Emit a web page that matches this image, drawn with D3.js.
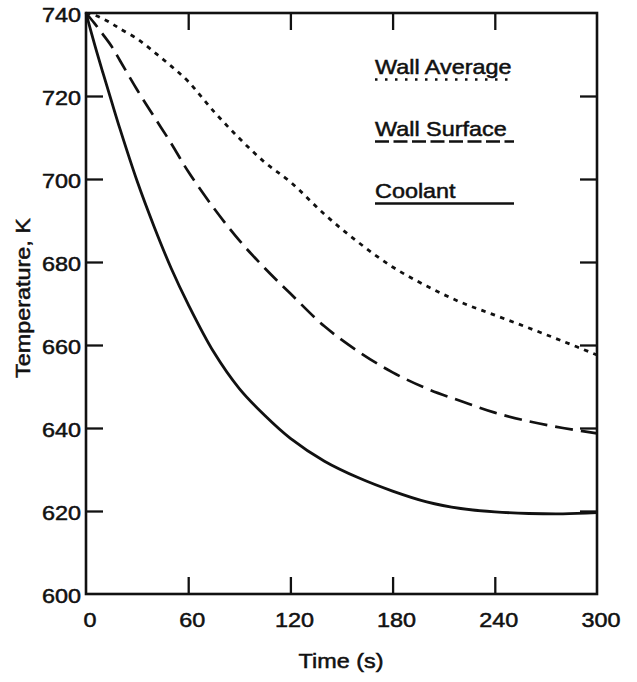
<!DOCTYPE html>
<html>
<head>
<meta charset="utf-8">
<script src="https://cdn.jsdelivr.net/npm/d3@7"></script>
<style>
  html, body { margin: 0; padding: 0; background: #fff; }
  svg { display: block; }
  text { font-family: "Liberation Sans", Arial, Helvetica, sans-serif; fill: #111; }
</style>
</head>
<body>
<svg id="chart" width="637" height="682"></svg>
<script>
// ---- data ----
const times = [0, 5, 10, 15, 20, 30, 40, 50, 60, 75, 90, 105, 120, 140, 160, 180, 200, 220, 240, 260, 280, 300];
const wallAverage = [740, 739.5, 738.6, 737.5, 736.2, 733.8, 730.6, 727.2, 723.5, 716.3, 709.8, 704, 699.3, 691.5, 684.7, 678.8, 674.2, 670.3, 667.2, 664.1, 660.9, 657.6];
const wallSurface = [740, 737.5, 734.8, 732, 728.5, 721.5, 715, 708.6, 701.8, 693, 685.2, 678.5, 672.4, 664.5, 658.4, 653.4, 649.5, 646.5, 643.7, 641.6, 640, 638.7];
const coolant = [740, 732.5, 725.5, 718.7, 712, 699.5, 688.5, 678.5, 669.8, 658.3, 649.5, 643, 637.5, 632, 628, 624.8, 622.2, 620.6, 619.8, 619.4, 619.3, 619.6];
const seriesNames = ["Wall Average", "Wall Surface", "Coolant"];
const xTicks = [0, 60, 120, 180, 240, 300];
const yTicks = [600, 620, 640, 660, 680, 700, 720, 740];
const xTitle = "Time (s)";
const yTitle = "Temperature, K";

// ---- layout ----
const svg = d3.select("#chart");
const pL = 86, pR = 597, pT = 13, pB = 594;
const x = d3.scaleLinear().domain([0, 300]).range([pL, pR]);
const y = d3.scaleLinear().domain([600, 740]).range([pB, pT]);
const stretch = 1.17;
const tickLen = 17;

function label(txt, px, py, anchor, rot) {
  svg.append("text")
    .attr("transform", `translate(${px},${py}) rotate(${rot || 0}) scale(${stretch},1)`)
    .attr("text-anchor", anchor)
    .attr("font-size", 20)
    .attr("stroke", "#111").attr("stroke-width", 0.5)
    .text(txt);
}

// inner ticks (all four sides), drawn through d3 axes
const innerX = xTicks.slice(1, -1), innerY = yTicks.slice(1, -1);
const axStyle = g => {
  g.select(".domain").remove();
  g.selectAll(".tick line").attr("stroke", "#111").attr("stroke-width", 2.3);
};
svg.append("g").attr("transform", `translate(0,${pB})`)
  .call(d3.axisBottom(x).tickValues(innerX).tickSize(-tickLen).tickFormat("")).call(axStyle);
svg.append("g").attr("transform", `translate(0,${pT})`)
  .call(d3.axisTop(x).tickValues(innerX).tickSize(-tickLen).tickFormat("")).call(axStyle);
svg.append("g").attr("transform", `translate(${pL},0)`)
  .call(d3.axisLeft(y).tickValues(innerY).tickSize(-tickLen).tickFormat("")).call(axStyle);
svg.append("g").attr("transform", `translate(${pR},0)`)
  .call(d3.axisRight(y).tickValues(innerY).tickSize(-tickLen).tickFormat("")).call(axStyle);

// frame
svg.append("rect").attr("x", pL).attr("y", pT)
  .attr("width", pR - pL).attr("height", pB - pT)
  .attr("fill", "none").attr("stroke", "#111").attr("stroke-width", 2.6);

// tick labels
xTicks.forEach(t => label(String(t), x(t) + 4, 627, "middle"));
yTicks.forEach(v => label(String(v), 81, y(v) + 9, "end"));

// axis titles
label(xTitle, 341, 668, "middle");
label(yTitle, 29.5, 298, "middle", -90);

// curves
const line = d3.line().x((d, i) => x(times[i])).y(d => y(d)).curve(d3.curveCatmullRom.alpha(0.5));
const styles = [
  { data: wallAverage, dash: "4.5,5.5", w: 2.8, legDash: "2.5,7.5", legW: 2.6 },
  { data: wallSurface, dash: "18,8", w: 2.7, legDash: "14,4.5", legW: 2.4 },
  { data: coolant, dash: null, w: 2.8, legDash: null, legW: 2.6 }
];
styles.forEach(s => {
  svg.append("path").datum(s.data)
    .attr("d", line)
    .attr("fill", "none").attr("stroke", "#111")
    .attr("stroke-width", s.w)
    .attr("stroke-dasharray", s.dash);
});

// legend
const legBase = [74, 136, 198];
seriesNames.forEach((name, i) => {
  label(name, 375, legBase[i], "start");
  svg.append("line")
    .attr("x1", 375).attr("x2", 514)
    .attr("y1", legBase[i] + 5.5).attr("y2", legBase[i] + 5.5)
    .attr("stroke", "#111").attr("stroke-width", styles[i].legW)
    .attr("stroke-dasharray", styles[i].legDash);
});
</script>
</body>
</html>
